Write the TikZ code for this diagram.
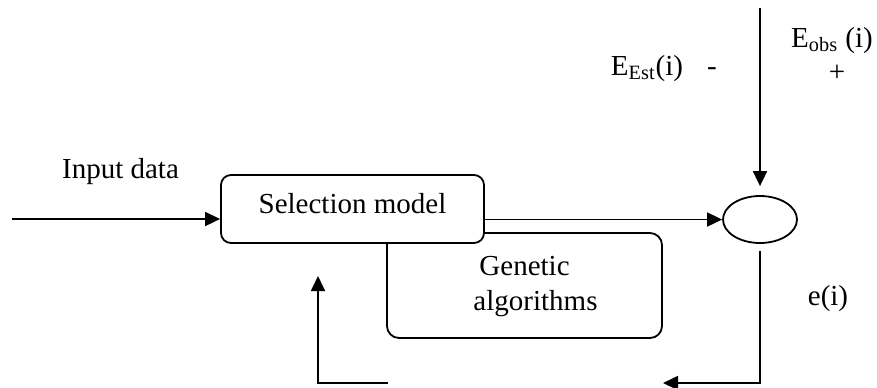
\documentclass[tikz,border=0pt]{standalone}
\usepackage{fontspec}
\setmainfont{Liberation Serif}
\usetikzlibrary{arrows.meta,calc,positioning,shapes}
\tikzstyle{model}=[draw, line width=0.9pt, rounded corners=5pt, fill=white, minimum width=131.5pt, minimum height=34pt, text height=10pt, text depth=6pt]
\tikzstyle{ga}=[draw, line width=0.9pt, rounded corners=6pt, minimum width=137.5pt, minimum height=52.5pt]
\tikzstyle{summer}=[draw, ellipse, line width=0.9pt, minimum width=37pt, minimum height=23.5pt, inner sep=0pt]
\tikzstyle{textbox}=[inner sep=0pt, anchor=base]
\tikzset{%
    flow/.style={-{Triangle[length=7.5pt,width=7pt]}, line width=0.9pt},
  }

\begin{document}
\begin{tikzpicture}[x=0.5pt, y=-0.5pt, font=\fontsize{14.5}{17.5}\selectfont]
    \useasboundingbox (0,0) rectangle (877,387);
    % blocks
    \node (gen) [ga] at (524.5,285.5) {};
    \node (sel) [model] at (352.5,209) {Selection model};
    \node (sum) [summer] at (760,219.5) {};
    \node (gentxt) [align=left, inner sep=0pt] at (535.5,287) {\hspace{3pt}Genetic\\algorithms};
    %
    \node (input) [textbox] at (120.5,178) {Input data};
    \node (eest) [textbox] at (647,75) {E\textsubscript{Est}(i)};
    \node (minus) [textbox] at (712,75) {-};
    \node (eobs) [textbox] at (832,47) {E\textsubscript{obs} (i)};
    \node (plus) [textbox] at (837,81) {+};
    \node (err) [textbox] at (828,305) {e(i)};
    % loose ends
    \coordinate (src) at (12,219);
    \coordinate (obs) at (760,8);
    \coordinate (fbr) at (760,383);
    \coordinate (fbm) at (663,383);
    \coordinate (fbl) at (388,383);
    \coordinate (fbup) at (318,276);

    \draw [flow] (src) -- (src -| sel.west);
    \draw [flow] (sel.east |- sum.west) -- (sum.west);
    \draw [flow, shorten >=4.5pt] (obs) -- (sum.north);
    \draw [flow] ([yshift=-3.5pt]sum.south) -- (fbr) -- (fbm);
    \draw [flow] (fbl) -- (fbl -| fbup) -- (fbup);
\end{tikzpicture}
\end{document}
